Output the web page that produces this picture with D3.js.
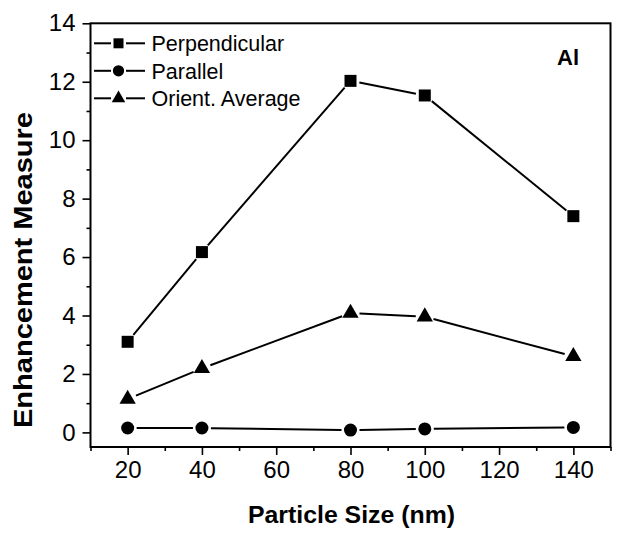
<!DOCTYPE html>
<html>
<head>
<meta charset="utf-8">
<script src="https://cdn.jsdelivr.net/npm/d3@7/dist/d3.min.js"></script>
<style>
  html, body { margin: 0; padding: 0; background: #fff; }
  svg { display: block; }
  text { font-family: "Liberation Sans", Arial, Helvetica, sans-serif; fill: #000; }
</style>
</head>
<body>
<svg id="chart" width="621" height="535"></svg>
<script>
// ---- data ----
const particleSizes = [20, 40, 80, 100, 140];
const perpendicular = [3.1, 6.17, 12.03, 11.53, 7.4];
const parallel = [0.15, 0.15, 0.08, 0.12, 0.17];
const orientAverage = [1.14, 2.19, 4.08, 3.96, 2.6];
const seriesNames = ["Perpendicular", "Parallel", "Orient. Average"];
const xTicks = [20, 40, 60, 80, 100, 120, 140];
const yTicks = [0, 2, 4, 6, 8, 10, 12, 14];
const xLabel = "Particle Size (nm)";
const yLabel = "Enhancement Measure";
const panelLabel = "Al";

const svg = d3.select("#chart");
const x = d3.scaleLinear().domain([10, 150]).range([90.5, 610.5]);
const y = d3.scaleLinear().domain([-0.5, 14]).range([447, 23.3]);

const series = [
  { name: seriesNames[0], values: perpendicular, symbol: d3.symbolSquare, size: 144, lsize: 100 },
  { name: seriesNames[1], values: parallel, symbol: d3.symbolCircle, size: 133, lsize: 100 },
  { name: seriesNames[2], values: orientAverage, symbol: d3.symbolTriangle, size: 115, lsize: 80 }
];

// minor ticks
const xMinor = d3.range(10, 151, 10).filter(v => v % 20 !== 0);
const yMinor = d3.range(1, 14, 2);

const gx = svg.append("g").attr("transform", `translate(0,${y.range()[0]})`);
gx.call(d3.axisBottom(x).tickValues(xTicks).tickSize(8).tickSizeOuter(0).tickPadding(6))
  .call(g => g.select(".domain").remove())
  .call(g => g.selectAll("line").attr("stroke", "#000").attr("stroke-width", 1.6))
  .call(g => g.selectAll("text").attr("font-size", 24).attr("font-family", "Liberation Sans, Arial, sans-serif"));
svg.append("g").attr("transform", `translate(0,${y.range()[0]})`)
  .call(d3.axisBottom(x).tickValues(xMinor).tickSize(4).tickSizeOuter(0).tickFormat(""))
  .call(g => g.select(".domain").remove())
  .call(g => g.selectAll("line").attr("stroke", "#000").attr("stroke-width", 1.6));

const gy = svg.append("g").attr("transform", `translate(${x.range()[0]},0)`);
gy.call(d3.axisLeft(y).tickValues(yTicks).tickSize(8).tickSizeOuter(0).tickPadding(7))
  .call(g => g.select(".domain").remove())
  .call(g => g.selectAll("line").attr("stroke", "#000").attr("stroke-width", 1.6))
  .call(g => g.selectAll("text").attr("font-size", 24).attr("font-family", "Liberation Sans, Arial, sans-serif"));
svg.append("g").attr("transform", `translate(${x.range()[0]},0)`)
  .call(d3.axisLeft(y).tickValues(yMinor).tickSize(4).tickSizeOuter(0).tickFormat(""))
  .call(g => g.select(".domain").remove())
  .call(g => g.selectAll("line").attr("stroke", "#000").attr("stroke-width", 1.6));

// frame
svg.append("rect")
  .attr("x", x.range()[0]).attr("y", y.range()[1])
  .attr("width", x.range()[1] - x.range()[0])
  .attr("height", y.range()[0] - y.range()[1])
  .attr("fill", "none").attr("stroke", "#000").attr("stroke-width", 2);

// series lines with gaps near markers
const gap = 9;
series.forEach(s => {
  const pts = particleSizes.map((v, i) => [x(v), y(s.values[i])]);
  const segs = [];
  for (let i = 0; i < pts.length - 1; i++) {
    const [x1, y1] = pts[i], [x2, y2] = pts[i + 1];
    const dx = x2 - x1, dy = y2 - y1, len = Math.hypot(dx, dy);
    const ux = dx / len, uy = dy / len;
    segs.push([x1 + ux * gap, y1 + uy * gap, x2 - ux * gap, y2 - uy * gap]);
  }
  svg.append("g").selectAll("line").data(segs).join("line")
    .attr("x1", d => d[0]).attr("y1", d => d[1])
    .attr("x2", d => d[2]).attr("y2", d => d[3])
    .attr("stroke", "#000").attr("stroke-width", 2);
  svg.append("g").selectAll("path").data(pts).join("path")
    .attr("transform", d => `translate(${d[0]},${d[1]})`)
    .attr("d", d3.symbol().type(s.symbol).size(s.size))
    .attr("fill", "#000");
});

// legend
const legend = svg.append("g");
series.forEach((s, i) => {
  const ly = 43.3 + i * 27.5;
  legend.append("line").attr("x1", 94).attr("x2", 111).attr("y1", ly).attr("y2", ly)
    .attr("stroke", "#000").attr("stroke-width", 2);
  legend.append("line").attr("x1", 126).attr("x2", 145).attr("y1", ly).attr("y2", ly)
    .attr("stroke", "#000").attr("stroke-width", 2);
  legend.append("path").attr("transform", `translate(118.5,${ly})`)
    .attr("d", d3.symbol().type(s.symbol).size(s.lsize)).attr("fill", "#000");
  legend.append("text").attr("x", 151.5).attr("y", ly).attr("dy", "0.36em")
    .attr("font-size", 21.5).text(s.name);
});

// panel label
svg.append("text").attr("x", 568).attr("y", 65).attr("text-anchor", "middle")
  .attr("font-size", 22).attr("font-weight", "bold").text(panelLabel);

// axis titles
svg.append("text").attr("x", 351.5).attr("y", 523).attr("text-anchor", "middle")
  .attr("font-size", 23).attr("font-weight", "bold")
  .attr("textLength", 207).attr("lengthAdjust", "spacingAndGlyphs").text(xLabel);
svg.append("text").attr("transform", "translate(32,270) rotate(-90)").attr("text-anchor", "middle")
  .attr("font-size", 26).attr("font-weight", "bold")
  .attr("textLength", 316).attr("lengthAdjust", "spacingAndGlyphs").text(yLabel);
</script>
</body>
</html>
